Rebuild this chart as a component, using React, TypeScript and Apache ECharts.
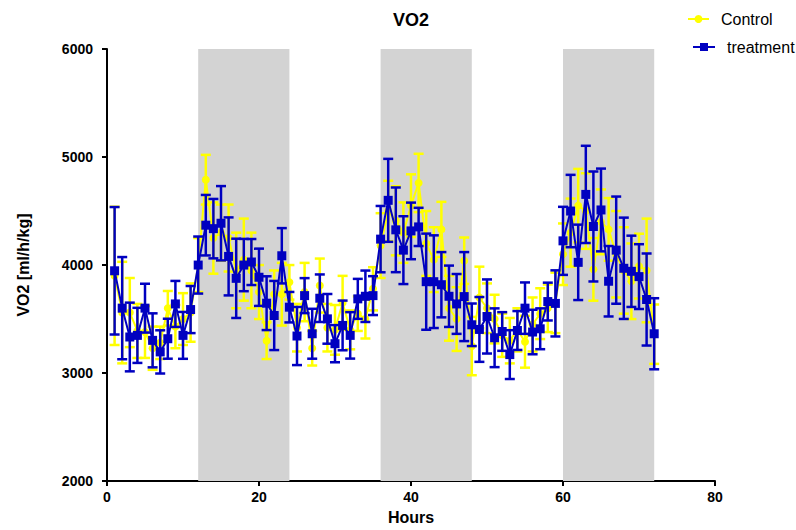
import React, { useEffect, useRef } from 'react';
import * as echarts from 'echarts';

// Hours of measurement
const hours = [
  1, 2, 3, 4, 5, 6, 7, 8, 9, 10, 11, 12, 13, 14, 15, 16, 17, 18, 19, 20, 21, 22, 23, 24,
  25, 26, 27, 28, 29, 30, 31, 32, 33, 34, 35, 36, 37, 38, 39, 40, 41, 42, 43, 44, 45, 46, 47, 48,
  49, 50, 51, 52, 53, 54, 55, 56, 57, 58, 59, 60, 61, 62, 63, 64, 65, 66, 67, 68, 69, 70, 71, 72,
];

// Control (yellow) means and SD
const controlMean = [
  3900, 3560, 3560, 3390, 3380, 3230, 3280, 3600, 3430, 3500, 3560, 4000,
  4790, 4250, 4300, 4250, 3950, 4050, 3950, 3750, 3300, 3730, 3730, 3840,
  3420, 3750, 3230, 3810, 3420, 3400, 3650, 3400, 3550, 3500, 3780, 4180,
  4500, 4410, 4300, 4550, 4760, 4200, 4050, 4330, 3600, 3500, 4040, 3250,
  3700, 3600, 3500, 3350, 3300, 3400, 3290, 3450, 3550, 3600, 3650, 4100,
  4300, 4550, 4500, 3960, 4400, 4330, 4100, 3950, 3850, 3990, 3950, 3360,
];
const controlSd = [
  640, 470, 320, 250, 240, 200, 150, 160, 200, 240, 270, 250,
  230, 330, 260, 310, 350, 380, 350, 250, 170, 220, 290, 160,
  220, 270, 160, 250, 220, 230, 250, 180, 160, 180, 200, 300,
  280, 320, 280, 290, 270, 300, 300, 255, 300, 295, 215, 270,
  285, 230, 225, 200, 210, 200, 240, 250, 235, 220, 280, 285,
  315, 340, 350, 290, 300, 290, 400, 400, 350, 300, 480, 275,
];

// Treatment (blue) means and SD
const treatmentMean = [
  3947, 3601, 3334, 3349, 3601, 3303, 3196, 3318, 3640, 3349, 3588, 4000,
  4369, 4337, 4387, 4080, 3877, 4000, 4028, 3887, 3647, 3533, 4086, 3610,
  3343, 3717, 3364, 3693, 3502, 3272, 3441, 3349, 3687, 3711, 3717, 4240,
  4599, 4326, 4138, 4316, 4353, 3846, 3846, 3818, 3711, 3640, 3708, 3447,
  3404, 3524, 3327, 3385, 3171, 3394, 3601, 3380, 3410, 3662, 3645, 4224,
  4500, 4025, 4654, 4357, 4510, 3850, 4138, 3970, 3942, 3893, 3681, 3364,
];
const treatmentSd = [
  590, 473, 318, 255, 226, 250, 200, 185, 213, 217, 218, 264,
  280, 275, 344, 361, 367, 242, 213, 265, 249, 320, 256, 141,
  269, 162, 231, 220, 230, 172, 230, 215, 185, 238, 180, 307,
  384, 392, 314, 262, 177, 445, 429, 302, 284, 277, 412, 197,
  300, 343, 272, 179, 226, 180, 238, 206, 189, 175, 306, 315,
  335, 349, 450, 509, 383, 326, 496, 469, 330, 300, 426, 329,
];

// Dark-phase shaded bands (hours)
const bandStarts = [12, 36, 60];
const bandEnds = [24, 48, 72];

const FONT = 'Liberation Sans, Arial, sans-serif';
const YELLOW = '#ffff00';
const BLUE = '#0000c0';

function errorRenderer(color: string) {
  return (params: any, api: any) => {
    const x = api.value(0);
    const lo = api.value(1);
    const hi = api.value(2);
    const pLo = api.coord([x, lo]);
    const pHi = api.coord([x, hi]);
    const half = 5;
    const style = { stroke: color, lineWidth: 2.5 };
    return {
      type: 'group',
      children: [
        { type: 'line', shape: { x1: pLo[0], y1: pLo[1], x2: pHi[0], y2: pHi[1] }, style },
        { type: 'line', shape: { x1: pHi[0] - half, y1: pHi[1], x2: pHi[0] + half, y2: pHi[1] }, style },
        { type: 'line', shape: { x1: pLo[0] - half, y1: pLo[1], x2: pLo[0] + half, y2: pLo[1] }, style },
      ],
    };
  };
}

export default function App() {
  const ref = useRef<HTMLDivElement>(null);
  useEffect(() => {
    if (!ref.current) return;
    const chart = echarts.init(ref.current, undefined, { renderer: 'svg' });

    const controlLine = hours.map((h, i) => [h, controlMean[i]]);
    const controlErr = hours.map((h, i) => [h, controlMean[i] - controlSd[i], controlMean[i] + controlSd[i]]);
    const treatLine = hours.map((h, i) => [h, treatmentMean[i]]);
    const treatErr = hours.map((h, i) => [h, treatmentMean[i] - treatmentSd[i], treatmentMean[i] + treatmentSd[i]]);
    const bands = bandStarts.map((s, i) => [{ xAxis: s }, { xAxis: bandEnds[i] }]);

    const axisCommon = {
      axisLine: { show: true, lineStyle: { color: '#000', width: 2 } },
      axisTick: { show: true, length: 5, lineStyle: { color: '#000', width: 2 } },
      splitLine: { show: false },
      nameTextStyle: { color: '#000', fontWeight: 'bold', fontSize: 16, fontFamily: FONT },
    };

    chart.setOption({
      animation: false,
      textStyle: { fontFamily: FONT },
      title: {
        text: 'VO2',
        left: 406,
        top: 6,
        textAlign: 'center',
        textStyle: { fontSize: 18, fontWeight: 'bold', color: '#000', fontFamily: FONT },
      },
      legend: [
        {
          data: ['Control'],
          left: 687,
          top: 11,
          padding: 0,
          itemWidth: 21,
          itemHeight: 10,
          textStyle: { fontSize: 16, color: '#000', fontFamily: FONT, padding: [0, 0, 0, 7] },
        },
        {
          data: ['treatment'],
          left: 692,
          top: 39,
          padding: 0,
          itemWidth: 22,
          itemHeight: 10,
          textStyle: { fontSize: 16, color: '#000', fontFamily: FONT, padding: [0, 0, 0, 7] },
        },
      ],
      grid: { left: 107, right: 81, top: 49, bottom: 47, containLabel: false },
      xAxis: {
        type: 'value',
        min: 0,
        max: 80,
        interval: 20,
        name: 'Hours',
        nameLocation: 'middle',
        nameGap: 27,
        ...axisCommon,
        axisLabel: { color: '#000', fontWeight: 'bold', fontSize: 14, margin: 9, fontFamily: FONT },
      },
      yAxis: {
        type: 'value',
        min: 2000,
        max: 6000,
        interval: 1000,
        name: 'VO2 [ml/h/kg]',
        nameLocation: 'middle',
        nameGap: 76,
        nameRotate: 90,
        ...axisCommon,
        axisLabel: {
          color: '#000',
          fontWeight: 'bold',
          fontSize: 14,
          margin: 14,
          fontFamily: FONT,
          formatter: (v: number) => String(v),
        },
      },
      series: [
        {
          name: 'bands',
          type: 'line',
          data: [],
          z: 1,
          silent: true,
          markArea: {
            silent: true,
            itemStyle: { color: '#d3d3d3' },
            data: bands,
          },
        },
        {
          name: 'controlErr',
          type: 'custom',
          z: 2,
          renderItem: errorRenderer(YELLOW),
          data: controlErr,
          silent: true,
        },
        {
          name: 'Control',
          type: 'line',
          z: 3,
          data: controlLine,
          symbol: 'circle',
          symbolSize: 8,
          lineStyle: { color: YELLOW, width: 2 },
          itemStyle: { color: YELLOW },
        },
        {
          name: 'treatmentErr',
          type: 'custom',
          z: 4,
          renderItem: errorRenderer(BLUE),
          data: treatErr,
          silent: true,
        },
        {
          name: 'treatment',
          type: 'line',
          z: 5,
          data: treatLine,
          symbol: 'rect',
          symbolSize: 9,
          lineStyle: { color: BLUE, width: 2 },
          itemStyle: { color: BLUE },
        },
      ],
    });

    return () => chart.dispose();
  }, []);

  return (
    <div
      ref={ref}
      style={{ position: 'fixed', left: 0, top: 0, width: 796, height: 530, background: '#fff' }}
    />
  );
}
